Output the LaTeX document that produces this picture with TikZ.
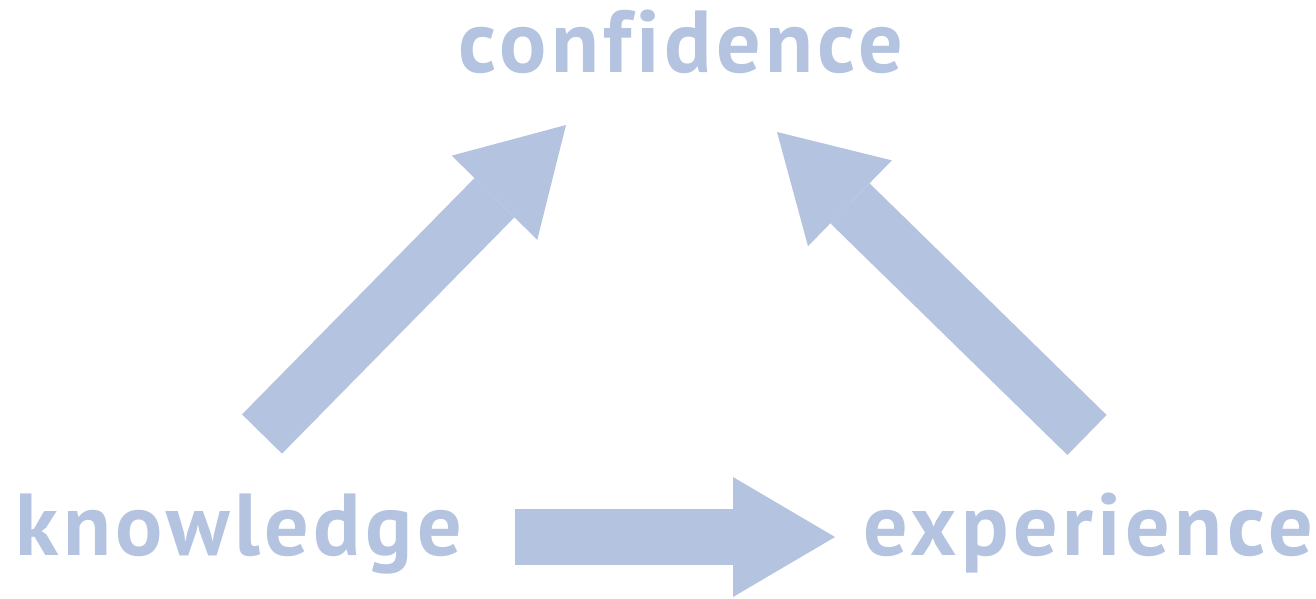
\documentclass[tikz,border=0pt]{standalone}
\usepackage{fontspec}
\setmainfont{PT Sans}[Ligatures=NoCommon,LetterSpace=5]
\usetikzlibrary{positioning,arrows.meta}
\definecolor{pale}{HTML}{B4C3E0}

\begin{document}
\begin{tikzpicture}[x=1pt,y=-1pt, word/.style={inner sep=0pt,anchor=base,text=pale,font=\fontsize{88}{96}\selectfont\bfseries},
  link/.style={pale,line width=56pt,-{Triangle[width=120pt,length=102pt,line width=0pt]}}]
\useasboundingbox (0,0) rectangle (1316,598);
\node[word] (conf) at (681,72) {confidence}; \node[word] (know) at (239,555) {knowledge}; \node[word] (exp) at (1088,555) {experience};
\coordinate (k1) at (262,434); \coordinate (c1) at (566,125); \coordinate (e1) at (1087,435); \coordinate (c2) at (777,132);
\coordinate (k2) at (515,537); \coordinate (e2) at (835,537);
\draw[link] (k1)--(c1); \draw[link] (e1)--(c2); \draw[link] (k2)--(e2);
\end{tikzpicture}
\end{document}
